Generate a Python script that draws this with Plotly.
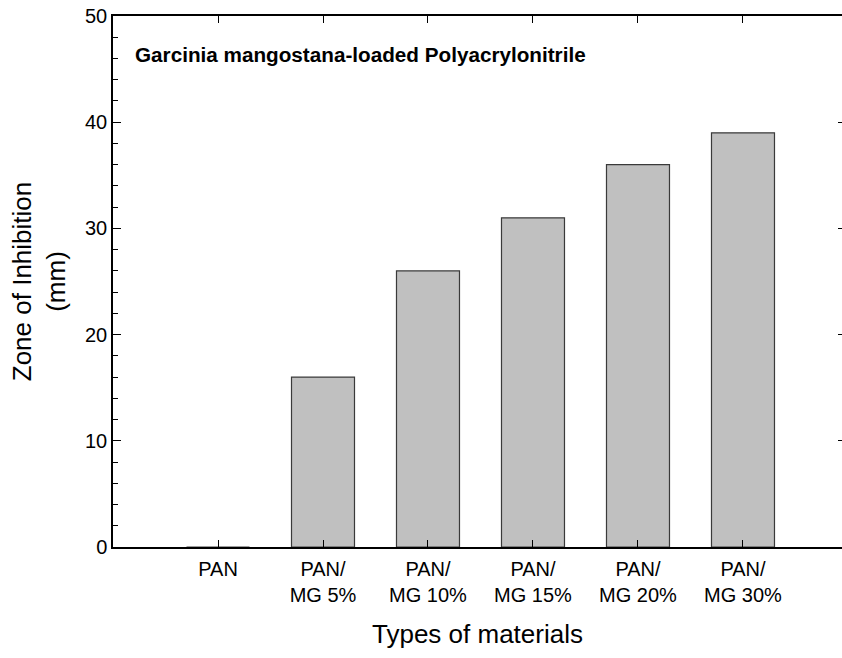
import plotly.graph_objects as go

categories = ["PAN", "PAN/<br>MG 5%", "PAN/<br>MG 10%", "PAN/<br>MG 15%", "PAN/<br>MG 20%", "PAN/<br>MG 30%"]
values = [0, 16, 26, 31, 36, 39]
positions = [1, 2, 3, 4, 5, 6]
y_ticks = [0, 10, 20, 30, 40, 50]

fig = go.Figure()
fig.add_trace(go.Bar(
    x=positions, y=values, width=0.6,
    marker=dict(color="#c0c0c0", line=dict(color="#3a3a3a", width=1.2)),
))
fig.add_trace(go.Scatter(x=[1], y=[0], yaxis="y2", mode="markers",
                         marker=dict(opacity=0), hoverinfo="skip"))

font = "Liberation Sans, Arial, sans-serif"
fig.update_layout(
    width=842, height=658,
    margin=dict(l=113, r=0, t=16, b=111),
    plot_bgcolor="white", paper_bgcolor="white",
    showlegend=False,
    font=dict(family=font, color="black", size=20),
    xaxis=dict(
        range=[0, 6.943], tickmode="array", tickvals=positions, ticktext=categories,
        ticks="inside", ticklen=7, tickwidth=1.2, tickcolor="black",
        showline=True, linecolor="black", linewidth=1.5, mirror="ticks",
        showgrid=False, zeroline=False, ticklabelstandoff=3,
        tickfont=dict(size=20, family=font),
        title=dict(text="Types of materials", font=dict(size=26, family=font), standoff=20),
    ),
    yaxis=dict(
        range=[0, 50], tickvals=y_ticks,
        ticks="inside", ticklen=8, tickwidth=1.2, tickcolor="black",
        minor=dict(dtick=2, ticks="inside", ticklen=5, tickwidth=1, tickcolor="black"),
        showline=True, linecolor="black", linewidth=1.5, mirror=False,
        showgrid=False, zeroline=False,
        tickfont=dict(size=20, family=font),
        title=dict(text="Zone of Inhibition<br>(mm)", font=dict(size=26, family=font), standoff=12),
    ),
    yaxis2=dict(
        range=[0, 50], tickvals=y_ticks, overlaying="y", side="right",
        ticks="inside", ticklen=4, tickwidth=1.2, tickcolor="black",
        showline=False, showticklabels=False, showgrid=False, zeroline=False,
    ),
    annotations=[dict(
        x=0.0274, y=0.928, xref="paper", yref="paper", xanchor="left", yanchor="middle",
        text="<b>Garcinia mangostana-loaded Polyacrylonitrile</b>", showarrow=False,
        font=dict(size=20.7, family=font, color="black"),
    )],
)

fig.write_html("out.html")
